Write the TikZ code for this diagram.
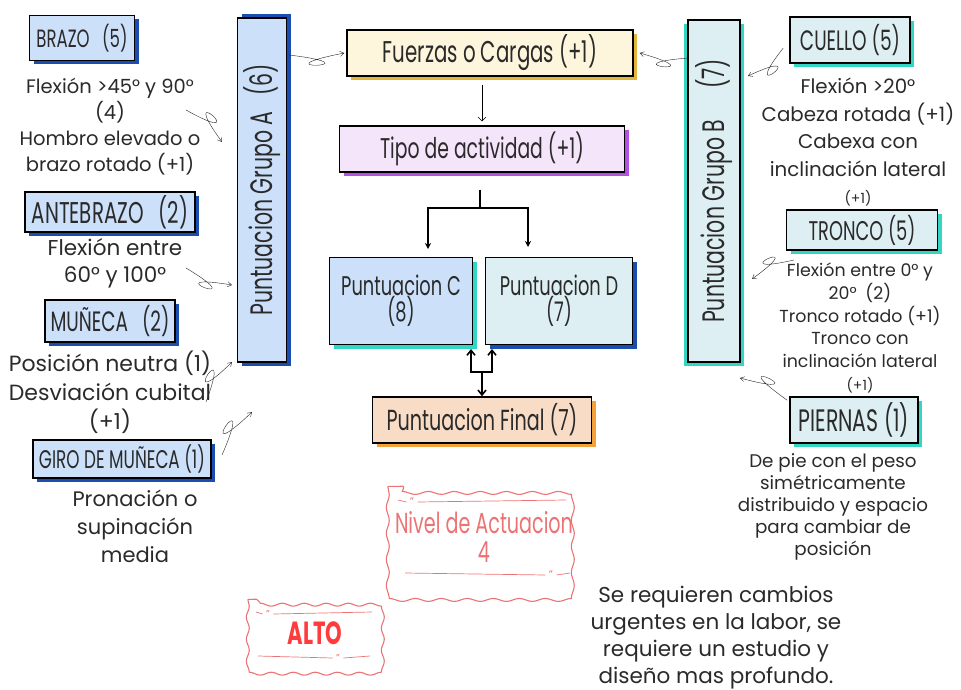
\documentclass[tikz,border=0pt]{standalone}
\usepackage{fontspec}
\setmainfont{Poppins}
\newfontfamily\handfont[FakeStretch=0.66]{Poppins}
\usetikzlibrary{shadows,calc,arrows.meta,decorations.pathmorphing}

\definecolor{skyfill}{HTML}{CCE0FA}
\definecolor{navyshade}{HTML}{1B4DB1}
\definecolor{icefill}{HTML}{DDEFF2}
\definecolor{tealshade}{HTML}{33D6C2}
\definecolor{creamfill}{HTML}{FDF5DC}
\definecolor{goldshade}{HTML}{E1B63B}
\definecolor{lilacfill}{HTML}{F5E5FB}
\definecolor{violetshade}{HTML}{B352E2}
\definecolor{peachfill}{HTML}{F8DCC5}
\definecolor{orangeshade}{HTML}{F2A23A}
\definecolor{stampred}{HTML}{EC7373}
\definecolor{altored}{HTML}{FF3B3B}
\definecolor{ink}{HTML}{2A2A2A}

\newcommand*{\titlef}[1]{\handfont\fontsize{#1}{#1}\selectfont}
\newcommand*{\notef}[2]{\fontsize{#1}{#2}\selectfont}

\tikzset{
  tag/.style 2 args={draw=black, line width=1.4pt, fill=#1, text=ink,
    drop shadow={shadow xshift=4pt, shadow yshift=-4pt, fill=#2, opacity=1},
    inner sep=0pt, align=center, font=\titlef{25}},
  note/.style={align=center, text=ink},
  curl/.style={thin, black!85, -{Straight Barb[length=4pt,width=5pt]},
    to path={.. controls ($(\tikztostart)!1.7!(\tikztotarget) + (\tikztostart)!#1!90:(\tikztotarget) - (\tikztostart)$)
      and ($(\tikztostart)!-0.7!(\tikztotarget) + (\tikztostart)!#1!90:(\tikztotarget) - (\tikztostart)$) .. (\tikztotarget)}},
  curl/.default=18pt,
  stamp/.style={draw=stampred, line width=1.1pt, decorate,
    decoration={snake, amplitude=1.5pt, segment length=26pt}},
  stampline/.style={draw=stampred, line width=0.7pt},
  flow/.style={line width=1.3pt, -{Stealth[length=6pt,width=6pt]}}
}

\begin{document}
\begin{tikzpicture}[x=1pt,y=-1pt]
\useasboundingbox (0,0) rectangle (961,690);

% group boxes
\node[tag={skyfill}{navyshade}, drop shadow={shadow xshift=4pt, shadow yshift=4pt, fill=navyshade, opacity=1}, rotate=90, minimum width=344pt, minimum height=49pt, font=\titlef{31}] (grupoA) at (262,190) {Puntuacion Grupo A\enspace (6)};
\node[tag={icefill}{tealshade}, drop shadow={shadow xshift=-4pt, shadow yshift=-4pt, fill=tealshade, opacity=1}, rotate=90, minimum width=342pt, minimum height=52pt, font=\titlef{31}] (grupoB) at (714,191) {Puntuacion Grupo B\quad (7)};

% left column: group A
\node[tag={skyfill}{navyshade}, minimum width=105pt, minimum height=45pt] (brazo) at (82,38) {BRAZO\enspace (5)};
\node[note, font=\notef{19.5}{26}] (brazoTxt) at (110,127) {Flexión >45° y 90°\\(4)\\Hombro elevado o\\brazo rotado (+1)};

\node[tag={skyfill}{navyshade}, minimum width=170pt, minimum height=40pt, font=\titlef{30}] (antebrazo) at (110,212) {ANTEBRAZO\enspace (2)};
\node[note, font=\notef{21.5}{27}] (antebrazoTxt) at (115,263) {Flexión entre\\60° y 100°};

\node[tag={skyfill}{navyshade}, minimum width=130pt, minimum height=42pt, font=\titlef{28}] (muneca) at (110,321) {MUÑECA\enspace (2)};
\node[note, font=\notef{22}{29}] (munecaTxt) at (110,392) {Posición neutra (1)\\Desviación cubital\\(+1)};

\node[tag={skyfill}{navyshade}, minimum width=178pt, minimum height=38pt, font=\titlef{25.5}] (giro) at (122,459) {GIRO DE MUÑECA (1)};
\node[note, font=\notef{21}{28}] (giroTxt) at (135,526) {Pronación o\\supinación\\media};

% centre column
\node[tag={creamfill}{goldshade}, minimum width=286pt, minimum height=46pt, font=\titlef{30}] (fuerzas) at (490,53) {Fuerzas o Cargas (+1)};
\node[tag={lilacfill}{violetshade}, minimum width=285pt, minimum height=46pt, font=\titlef{28.5}] (tipo) at (482,149) {Tipo de actividad (+1)};
\node[tag={skyfill}{tealshade}, minimum width=143pt, minimum height=87pt, font=\handfont\fontsize{27}{25}\selectfont] (puntC) at (401,301) {Puntuacion C\\(8)};
\node[tag={icefill}{navyshade}, minimum width=147pt, minimum height=87pt, font=\handfont\fontsize{27}{25}\selectfont] (puntD) at (559,301) {Puntuacion D\\(7)};
\node[tag={peachfill}{orangeshade}, minimum width=219pt, minimum height=46pt, font=\titlef{29}] (final) at (482,420) {Puntuacion Final (7)};

% right column: group B
\node[tag={icefill}{tealshade}, minimum width=120pt, minimum height=46pt, font=\titlef{28}] (cuello) at (850,40) {CUELLO (5)};
\node[note, font=\notef{19.8}{27.5}] (cuelloTxt) at (858,142) {Flexión >20°\\Cabeza rotada (+1)\\Cabexa con\\inclinación lateral\\{\fontsize{14}{14}\selectfont(+1)}};

\node[tag={icefill}{tealshade}, minimum width=151pt, minimum height=40pt, font=\titlef{27}] (tronco) at (862,230) {TRONCO (5)};
\node[note, font=\notef{17.4}{22.8}] (troncoTxt) at (860,328) {Flexión entre 0° y\\20°\enspace (2)\\Tronco rotado (+1)\\Tronco con\\inclinación lateral\\{\fontsize{14}{14}\selectfont(+1)}};

\node[tag={icefill}{tealshade}, minimum width=128pt, minimum height=46pt, font=\titlef{31}] (piernas) at (854,420) {PIERNAS (1)};
\node[note, font=\notef{18.3}{22}] (piernasTxt) at (833,507) {De pie con el peso\\simétricamente\\distribuido y espacio\\para cambiar de\\posición};

% result stamps
\node[minimum width=192pt, minimum height=101pt, align=center, text=stampred, font=\handfont\fontsize{29}{29}\selectfont] (nivel) at (484,537) {Nivel de Actuacion\\4};
\draw[stamp] (nivel.north west) rectangle (nivel.south east);
\node[text=stampred, font=\fontsize{11}{11}\selectfont] (nivelQa) at (412,502) {”};
\node[text=stampred, font=\fontsize{11}{11}\selectfont] (nivelQb) at (551,575) {”};
\draw[stampline] (398,500) -- (nivelQa.west) (nivelQa.east) -- (566,500);
\draw[stampline] (405,573) -- (nivelQb.west) (nivelQb.east) -- (570,573);

\node[minimum width=134pt, minimum height=67pt, text=altored, font=\handfont\bfseries\fontsize{32}{32}\selectfont] (alto) at (315,633) {ALTO};
\draw[stamp, decoration={segment length=22pt}] (alto.north west) rectangle (alto.south east);
\node[text=stampred, font=\fontsize{10}{10}\selectfont] (altoQa) at (268,614) {”};
\node[text=stampred, font=\fontsize{10}{10}\selectfont] (altoQb) at (338,658) {”};
\draw[stampline] (256,612) -- (altoQa.west) (altoQa.east) -- (372,612);
\draw[stampline] (258,656) -- (altoQb.west) (altoQb.east) -- (370,656);

\node[note, inner sep=1pt, font=\notef{21.5}{27}] (cambiosTxt) at (716,638) {Se requieren cambios\\urgentes en la labor, se\\requiere un estudio y\\diseño mas profundo.};

% flow arrows
\draw[thin, -{Straight Barb[length=4pt]}, shorten <=8pt, shorten >=4pt] (tipo.north |- fuerzas.south) -- (tipo.north);

\coordinate (split) at (480,208);
\coordinate (toC) at (428,249);
\coordinate (toD) at (528,247);
\draw[line width=1.3pt] ([yshift=-17pt]tipo.south -| split) -- (split);
\draw[flow] (split) -| (toC);
\draw[flow] (split) -| (toD);

\coordinate (upC) at (471,349);
\coordinate (upD) at (492,349);
\coordinate (join) at (482,372);
\draw[line width=1.6pt, {Straight Barb[length=5pt,width=8pt]}-{Straight Barb[length=5pt,width=8pt]}] (upC) |- (join) -| (upD);
\draw[line width=1.6pt, -{Straight Barb[length=5pt,width=8pt]}] (join) -- (join |- final.north);

% curly connectors
\coordinate (aOut) at (289,55);
\coordinate (bOut) at (689,58);
\draw[curl=-15pt] (aOut) to ([xshift=-2pt]fuerzas.west);
\draw[curl=15pt] (bOut) to ([xshift=6pt]fuerzas.east);

\coordinate (brazoIn) at (222,142);
\coordinate (antebrazoIn) at (232,285);
\coordinate (munecaIn) at (232,362);
\coordinate (giroIn) at (252,412);
\draw[curl] (186,110) to (brazoIn);
\draw[curl=-16pt] (186,268) to (antebrazoIn);
\draw[curl] (206,402) to (munecaIn);
\draw[curl] (222,455) to (giroIn);

\coordinate (cuelloIn) at (748,76);
\coordinate (troncoIn) at (752,279);
\coordinate (piernasIn) at (740,378);
\draw[curl] (cuello.west) ++(-6,8) to (cuelloIn);
\draw[curl=-16pt] (794,260) to (troncoIn);
\draw[curl=-16pt] (piernas.north west) ++(-2,4) to (piernasIn);

\end{tikzpicture}
\end{document}
